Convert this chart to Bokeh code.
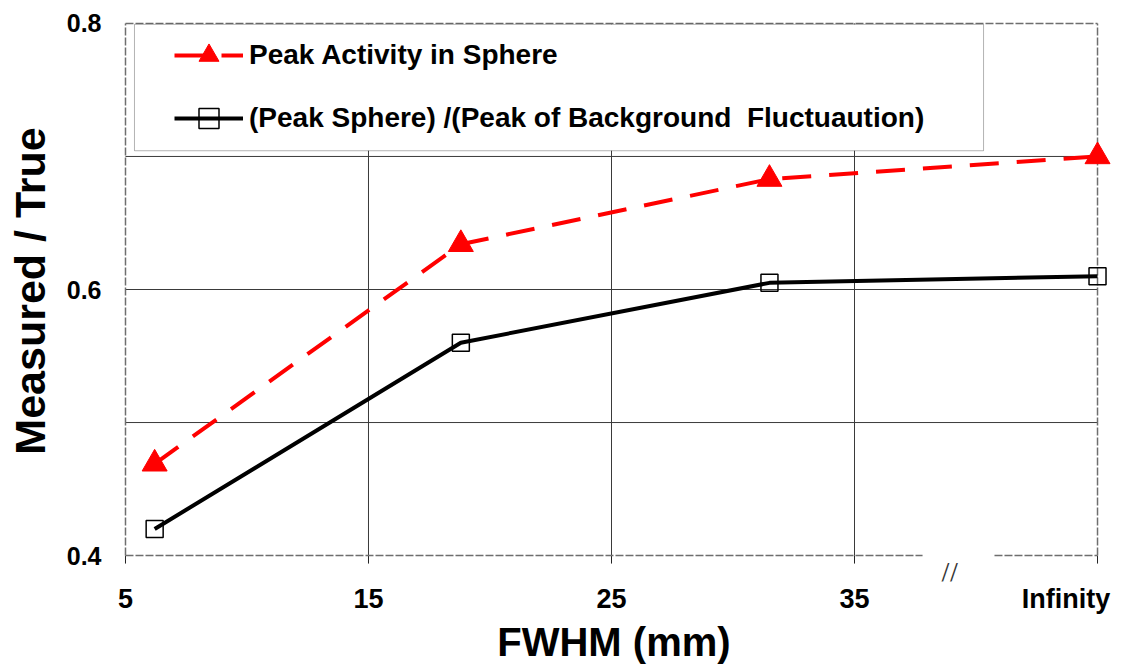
from bokeh.plotting import figure
from bokeh.models import (Range1d, FixedTicker, Legend, LegendItem,
                          BoxAnnotation, Label)
from bokeh.embed import file_html
from bokeh.resources import INLINE

# ---- data ----
fwhm = [6.2, 18.8, 31.5, 45.0]          # last point plotted at "Infinity"
peak_activity = [0.469, 0.634, 0.683, 0.700]
peak_ratio = [0.420, 0.560, 0.605, 0.610]
x_tick_marks = [5, 15, 25, 35, 45]
x_label_pos = [5, 15, 25, 35, 43.7]
x_tick_overrides = {43.7: "Infinity"}
break_mark = "//"
y_ticks = [0.4, 0.6, 0.8]
x_grid = [15, 25, 35]
y_grid = [0.5, 0.6, 0.7]
series_names = ["Peak Activity in Sphere",
                "(Peak Sphere) /(Peak of Background  Fluctuaution)"]
x_title = "FWHM  (mm)"
y_title = "Measured / True"

X_MIN, X_MAX = 5, 45
Y_MIN, Y_MAX = 0.4, 0.8
TICK_END = 0.394     # bottom end of the outside tick marks
BREAK_POS = 38.9     # centre of the axis-break mark
GAP = (37.8, 40.76)  # break in the bottom frame line

FONT = "Liberation Sans"

p = figure(width=1121, height=666, output_backend="svg", toolbar_location=None,
           x_range=Range1d(4.918, 45.74), y_range=Range1d(0.38052, 0.81723),
           min_border_left=123, min_border_right=6, min_border_top=0,
           min_border_bottom=83)
p.outline_line_color = None
p.background_fill_color = "white"
p.border_fill_color = "white"
p.xgrid.visible = False
p.ygrid.visible = False

# x axis (labels only; tick marks drawn at the 0.4 line below)
xa = p.xaxis[0]
xa.ticker = FixedTicker(ticks=x_label_pos)
xa.major_label_overrides = x_tick_overrides
xa.axis_line_color = None
xa.major_tick_line_color = None
xa.minor_tick_line_color = None
xa.major_tick_out = 0
xa.major_tick_in = 0
xa.major_label_standoff = 2
xa.major_label_text_font = FONT
xa.major_label_text_font_style = "bold"
xa.major_label_text_font_size = "27px"
xa.major_label_text_color = "black"
xa.axis_label = x_title
xa.axis_label_text_font = FONT
xa.axis_label_text_font_style = "bold"
xa.axis_label_text_font_size = "40px"
xa.axis_label_text_color = "black"
xa.axis_label_standoff = 3

# y axis
ya = p.yaxis[0]
ya.ticker = FixedTicker(ticks=y_ticks)
ya.axis_line_color = None
ya.major_tick_line_color = None
ya.minor_tick_line_color = None
ya.major_tick_out = 0
ya.major_tick_in = 0
ya.major_label_standoff = 22
ya.major_label_text_font = FONT
ya.major_label_text_font_style = "bold"
ya.major_label_text_font_size = "25px"
ya.major_label_text_color = "black"
ya.axis_label = y_title
ya.axis_label_text_font = FONT
ya.axis_label_text_font_style = "bold"
ya.axis_label_text_font_size = "43px"
ya.axis_label_text_color = "black"
ya.axis_label_standoff = 10

# grid lines (inside the dashed frame only)
grid_kw = dict(line_color="#3a3a3a", line_width=1)
p.segment(x0=x_grid, y0=[Y_MIN] * len(x_grid), x1=x_grid,
          y1=[Y_MAX] * len(x_grid), **grid_kw)
p.segment(x0=[X_MIN] * len(y_grid), y0=y_grid, x1=[X_MAX] * len(y_grid),
          y1=y_grid, **grid_kw)
# outside tick marks on the x axis
p.segment(x0=x_tick_marks, y0=[Y_MIN] * len(x_tick_marks), x1=x_tick_marks,
          y1=[TICK_END] * len(x_tick_marks), line_color="#222222",
          line_width=1)

# frame border (dashed), with a break in the bottom edge
border_kw = dict(line_color="#6e6e6e", line_width=1.5, line_dash="8 2")
p.segment(x0=[X_MIN, X_MAX, X_MIN], y0=[Y_MAX, Y_MIN, Y_MIN],
          x1=[X_MAX, X_MAX, X_MIN], y1=[Y_MAX, Y_MAX, Y_MAX], **border_kw)
p.segment(x0=[X_MIN, GAP[1]], y0=[Y_MIN, Y_MIN], x1=[GAP[0], X_MAX],
          y1=[Y_MIN, Y_MIN], **border_kw)

# axis-break mark
p.add_layout(Label(x=BREAK_POS, y=Y_MIN, text=break_mark, text_align="center",
                   text_baseline="top", text_font="Liberation Serif",
                   text_font_size="31px", text_color="#333333"))

# legend box (white, covers grid)
box = BoxAnnotation(left=5.37, right=40.31, top=0.7993, bottom=0.7043,
                    fill_color="white", fill_alpha=1.0,
                    line_color="black", line_width=1, level="annotation")
p.add_layout(box)

# series
r1 = p.line(fwhm, peak_activity, line_color="#ff0000", line_width=4,
            line_dash="29 18")
m1 = p.scatter(fwhm, peak_activity, marker="triangle", size=25,
               fill_color="#ff0000", line_color="#ff0000")
r2 = p.line(fwhm, peak_ratio, line_color="black", line_width=4)
m2 = p.scatter(fwhm, peak_ratio, marker="square", size=17, fill_color=None,
               line_color="black", line_width=1.5)

legend = Legend(items=[LegendItem(label=series_names[0], renderers=[r1, m1]),
                       LegendItem(label=series_names[1], renderers=[r2, m2])],
                location=(51, 438), orientation="vertical",
                padding=0, margin=0, spacing=13,
                glyph_width=69, glyph_height=50, label_height=50,
                label_standoff=6,
                label_text_font=FONT, label_text_font_style="bold",
                label_text_font_size="28px", label_text_color="black",
                border_line_color=None, background_fill_alpha=0.0)
p.add_layout(legend)

open("out.html", "w").write(file_html(p, INLINE))
